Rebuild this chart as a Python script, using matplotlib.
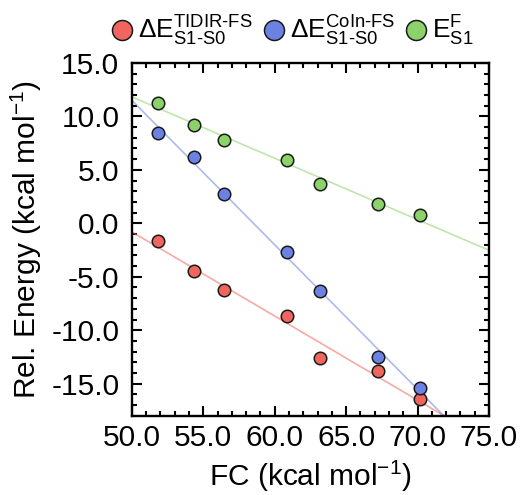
import numpy as np
import matplotlib
matplotlib.use("Agg")
import matplotlib.pyplot as plt
from matplotlib.ticker import MultipleLocator, FormatStrFormatter

plt.rcParams["font.family"] = ["Liberation Sans", "DejaVu Sans"]
plt.rcParams["mathtext.fontset"] = "custom"
plt.rcParams["mathtext.rm"] = "Liberation Sans"
plt.rcParams["mathtext.it"] = "Liberation Sans:italic"
plt.rcParams["mathtext.bf"] = "Liberation Sans:bold"
plt.rcParams["mathtext.default"] = "regular"

# Franck-Condon energies (kcal/mol)
fc = [51.84, 54.35, 56.45, 60.87, 63.19, 67.22, 70.14]

# Relative energies (kcal/mol)
de_tidir = [-1.70, -4.43, -6.23, -8.65, -12.64, -13.80, -16.44]
de_coin = [8.40, 6.20, 2.74, -2.64, -6.32, -12.52, -15.41]
e_s1_f = [11.29, 9.15, 7.76, 5.88, 3.66, 1.76, 0.75]

series_labels = [
    r"$\Delta E^{\text{TIDIR-FS}}_{\text{S1-S0}}$",
    r"$\Delta E^{\text{CoIn-FS}}_{\text{S1-S0}}$",
    r"$E^{F}_{S1}$",
]
colors = ["#F0655D", "#6B82E2", "#8BD26A"]

fig = plt.figure(figsize=(5.23, 4.95), dpi=100)
ax = fig.add_axes([0.252, 0.160, 0.683, 0.713])

x = np.asarray(fc)
xfit = np.linspace(50, 75, 200)
for ys, c, lab in zip([de_tidir, de_coin, e_s1_f], colors, series_labels):
    ys = np.asarray(ys)
    k, b = np.polyfit(x, ys, 1)
    ax.plot(xfit, k * xfit + b, color=c, alpha=0.55, lw=1.2, zorder=2)
    ax.plot(x, ys, "o", ms=9, mfc=c, mec="#1a1a1a", mew=1.1, zorder=3,
            label=lab)

ax.set_xlim(50, 75)
ax.set_ylim(-18, 15)
ax.xaxis.set_major_locator(MultipleLocator(5))
ax.xaxis.set_minor_locator(MultipleLocator(1))
ax.yaxis.set_major_locator(MultipleLocator(5))
ax.yaxis.set_minor_locator(MultipleLocator(1))
ax.xaxis.set_major_formatter(FormatStrFormatter("%.1f"))
ax.yaxis.set_major_formatter(FormatStrFormatter("%.1f"))

ax.tick_params(which="both", direction="in", top=True, right=True,
               width=1.5, labelsize=21.5)
ax.tick_params(which="major", length=7)
ax.tick_params(which="minor", length=3.5)
ax.tick_params(axis="x", which="major", pad=6)
ax.tick_params(axis="y", which="major", pad=9)
for sp in ax.spines.values():
    sp.set_linewidth(1.7)

ax.set_xlabel(r"FC (kcal mol$^{-1}$)", fontsize=21.5, labelpad=5)
ax.set_ylabel(r"Rel. Energy (kcal mol$^{-1}$)", fontsize=21.5, labelpad=5)

ax.legend(loc="lower center", bbox_to_anchor=(0.45, 1.0), ncol=3,
          frameon=False, fontsize=19, markerscale=1.6, handlelength=0.8,
          handletextpad=0.2, columnspacing=0.4, borderaxespad=0.15)

fig.savefig("out.png", dpi=100)
